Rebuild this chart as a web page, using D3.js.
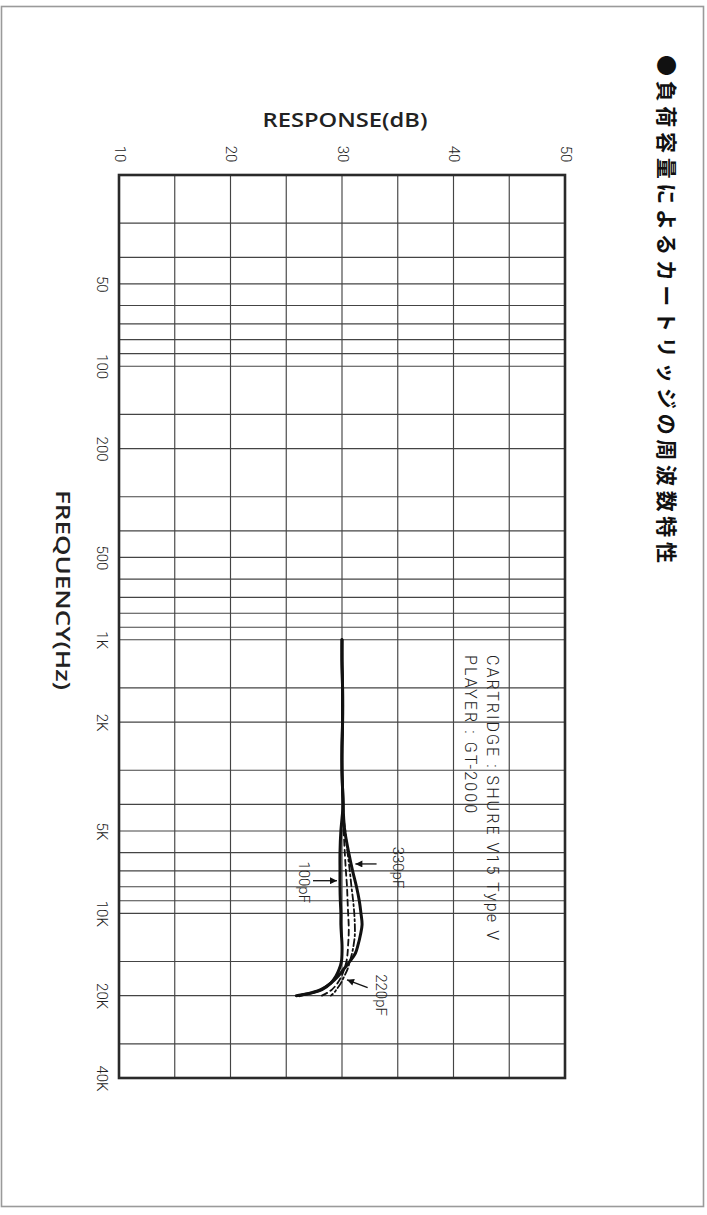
<!DOCTYPE html>
<html>
<head>
<meta charset="utf-8">
<script src="https://cdn.jsdelivr.net/npm/d3@7"></script>
<style>
  html, body { margin: 0; padding: 0; background: #fff; }
  svg { display: block; }
</style>
</head>
<body>
<script>
// Response axis (dB): labelled ticks and the 5 dB grid
const dbTicks = [10, 20, 30, 40, 50];
const dbGrid = [15, 20, 25, 30, 35, 40, 45];

// Frequency axis (Hz): labelled ticks and the log grid
const freqTicks = [50, 100, 200, 500, 1000, 2000, 5000, 10000, 20000, 40000];
const freqTickLabels = ["50", "100", "200", "500", "1K", "2K", "5K", "10K", "20K", "40K"];
const freqGrid = [30, 40, 50, 60, 70, 80, 90, 100, 150, 200, 300, 400, 500, 600, 700, 800, 900,
                  1000, 1500, 2000, 3000, 4000, 5000, 6000, 7000, 8000, 9000, 10000, 15000, 20000, 30000];

// Measured frequencies shared by every curve
const freqHz = [1000, 1200, 1500, 2000, 2500, 3000, 3500, 4000, 4500, 5000, 6000, 7000, 8000, 9000,
                10000, 11000, 12000, 13000, 14000, 15000, 16000, 17000, 18000, 19000, 19500, 20000];

// Response (dB) for each load capacitance
const resp100pF = [30.0, 30.0, 30.05, 30.05, 30.0, 30.0, 30.05, 30.1, 30.0, 29.9, 29.82, 29.82, 29.82, 29.85,
                   29.9, 29.9, 29.95, 30.0, 30.0, 29.95, 29.75, 29.45, 29.0, 28.2, 27.4, 25.9];
const respDashed = [30.0, 30.0, 30.05, 30.05, 30.0, 30.0, 30.05, 30.1, 30.1, 30.15, 30.25, 30.35, 30.45, 30.5,
                    30.55, 30.6, 30.6, 30.55, 30.5, 30.4, 30.2, 29.95, 29.6, 29.1, 28.7, 28.2];
const resp220pF = [30.0, 30.0, 30.05, 30.05, 30.0, 30.0, 30.05, 30.1, 30.15, 30.3, 30.5, 30.7, 30.85, 31.0,
                   31.1, 31.15, 31.15, 31.05, 30.9, 30.7, 30.5, 30.2, 29.9, 29.5, 29.3, 29.0];
const resp330pF = [30.0, 30.0, 30.05, 30.05, 30.0, 30.0, 30.05, 30.1, 30.15, 30.25, 30.6, 30.95, 31.3, 31.55,
                   31.7, 31.8, 31.65, 31.45, 31.2, 30.7, 30.15, 29.65, 29.0, 28.1, 27.3, 26.2];

// Capacitance call-outs: label position and arrow (from -> to) in data units
const calloutLabels = ["330pF", "100pF", "220pF"];
const calloutTextHz = [6800, 7700, 19900];
const calloutTextDb = [35.0, 26.6, 33.5];
const calloutFromHz = [6600, 7600, 18700];
const calloutFromDb = [33.1, 27.4, 32.3];
const calloutToHz = [6600, 7600, 17500];
const calloutToDb = [31.2, 29.55, 30.45];

const W = 707, H = 1215;
const svg = d3.select("body").append("svg").attr("width", W).attr("height", H);

// page border
svg.append("rect").attr("x", 1.5).attr("y", 6.5).attr("width", 702).attr("height", 1200)
  .attr("fill", "none").attr("stroke", "#9a9a9a").attr("stroke-width", 1.6);

const x = d3.scaleLinear().domain([10, 50]).range([119, 565]);
const y = d3.scaleLog().domain([20, 40000]).range([175, 1078]);

const heading = "'Open Sans', 'Liberation Sans', sans-serif";
const light = "Roboto, 'Liberation Sans', sans-serif";

// grid
const grid = svg.append("g").attr("stroke", "#444").attr("stroke-width", 1.15);
grid.selectAll("line.v").data(dbGrid).join("line").attr("class", "v")
  .attr("x1", d => x(d)).attr("x2", d => x(d)).attr("y1", y(20)).attr("y2", y(40000));
grid.selectAll("line.h").data(freqGrid).join("line").attr("class", "h")
  .attr("y1", d => y(d)).attr("y2", d => y(d)).attr("x1", x(10)).attr("x2", x(50));

// frame
svg.append("rect").attr("x", x(10)).attr("y", y(20)).attr("width", x(50) - x(10)).attr("height", y(40000) - y(20))
  .attr("fill", "none").attr("stroke", "#2a2a2a").attr("stroke-width", 2.6);

// response axis along the top, labels turned a quarter clockwise
const xAxis = svg.append("g").attr("transform", `translate(0,${y(20)})`)
  .call(d3.axisTop(x).tickValues(dbTicks).tickSize(0).tickFormat(d3.format("d")));
xAxis.select(".domain").remove();
xAxis.selectAll("text")
  .attr("x", 0).attr("y", 0).attr("dy", null)
  .attr("transform", "translate(0,-21) rotate(90)")
  .attr("text-anchor", "middle").attr("dominant-baseline", "central")
  .attr("font-family", light).attr("font-weight", 300).attr("font-size", 15).attr("fill", "#222");

// frequency axis down the left side
const yAxis = svg.append("g").attr("transform", `translate(${x(10)},0)`)
  .call(d3.axisLeft(y).tickValues(freqTicks).tickSize(0)
    .tickFormat((d, i) => freqTickLabels[i]));
yAxis.select(".domain").remove();
yAxis.selectAll("text")
  .attr("x", 0).attr("y", 0).attr("dy", null)
  .attr("transform", "translate(-17,0) rotate(90)")
  .attr("text-anchor", "middle").attr("dominant-baseline", "central")
  .attr("font-family", light).attr("font-weight", 300).attr("font-size", 15).attr("fill", "#222");

// axis titles
svg.append("text").attr("x", 345).attr("y", 127).attr("text-anchor", "middle")
  .attr("font-family", heading).attr("font-weight", 600).attr("font-size", 19)
  .attr("textLength", 165).attr("lengthAdjust", "spacingAndGlyphs").attr("fill", "#222")
  .text("RESPONSE(dB)");
svg.append("text").attr("transform", "translate(63,590) rotate(90)")
  .attr("text-anchor", "middle").attr("dominant-baseline", "central")
  .attr("font-family", heading).attr("font-weight", 600).attr("font-size", 19)
  .attr("textLength", 200).attr("lengthAdjust", "spacingAndGlyphs").attr("fill", "#222")
  .text("FREQUENCY(Hz)");

// chart title
svg.append("text").attr("transform", "translate(668,55) rotate(90)")
  .attr("text-anchor", "start").attr("dominant-baseline", "central")
  .attr("font-family", "'Noto Sans CJK JP', sans-serif").attr("font-weight", 700).attr("font-size", 21)
  .attr("textLength", 508).attr("lengthAdjust", "spacing").attr("fill", "#111")
  .text("●負荷容量によるカートリッジの周波数特性");

// test conditions
const cond = svg.append("g").attr("font-family", light).attr("font-weight", 300).attr("font-size", 16).attr("fill", "#222");
cond.append("text").attr("transform", "translate(492,655) rotate(90)").attr("dominant-baseline", "central")
  .attr("textLength", 285).attr("lengthAdjust", "spacing").text("CARTRIDGE : SHURE V15 Type V");
cond.append("text").attr("transform", "translate(470,655) rotate(90)").attr("dominant-baseline", "central")
  .attr("textLength", 158).attr("lengthAdjust", "spacing").text("PLAYER : GT-2000");

// response curves
const series = [
  { vals: resp100pF, width: 3, dash: null },
  { vals: respDashed, width: 1.8, dash: "6,4" },
  { vals: resp220pF, width: 1.8, dash: "7,3,2,3" },
  { vals: resp330pF, width: 3, dash: null }
];
const line = d3.line().x(d => x(d[1])).y(d => y(d[0])).curve(d3.curveCatmullRom.alpha(0.5));
svg.append("g").selectAll("path").data(series).join("path")
  .attr("d", s => line(freqHz.map((f, i) => [f, s.vals[i]])))
  .attr("fill", "none").attr("stroke", "#111")
  .attr("stroke-width", s => s.width)
  .attr("stroke-dasharray", s => s.dash)
  .attr("stroke-linejoin", "round").attr("stroke-linecap", "round");

// arrows + labels
svg.append("defs").append("marker").attr("id", "head")
  .attr("viewBox", "0 0 10 10").attr("refX", 10).attr("refY", 5)
  .attr("markerWidth", 9).attr("markerHeight", 7).attr("markerUnits", "userSpaceOnUse")
  .attr("orient", "auto")
  .append("path").attr("d", "M0,0 L10,5 L0,10 Z").attr("fill", "#111");

const co = svg.append("g");
co.selectAll("line").data(calloutLabels).join("line")
  .attr("x1", (d, i) => x(calloutFromDb[i])).attr("y1", (d, i) => y(calloutFromHz[i]))
  .attr("x2", (d, i) => x(calloutToDb[i])).attr("y2", (d, i) => y(calloutToHz[i]))
  .attr("stroke", "#111").attr("stroke-width", 1.3).attr("marker-end", "url(#head)");
co.selectAll("text").data(calloutLabels).join("text")
  .attr("transform", (d, i) => `translate(${x(calloutTextDb[i])},${y(calloutTextHz[i])}) rotate(90)`)
  .attr("text-anchor", "middle").attr("dominant-baseline", "central")
  .attr("font-family", light).attr("font-weight", 300).attr("font-size", 15).attr("fill", "#222")
  .text(d => d);
</script>
</body>
</html>
